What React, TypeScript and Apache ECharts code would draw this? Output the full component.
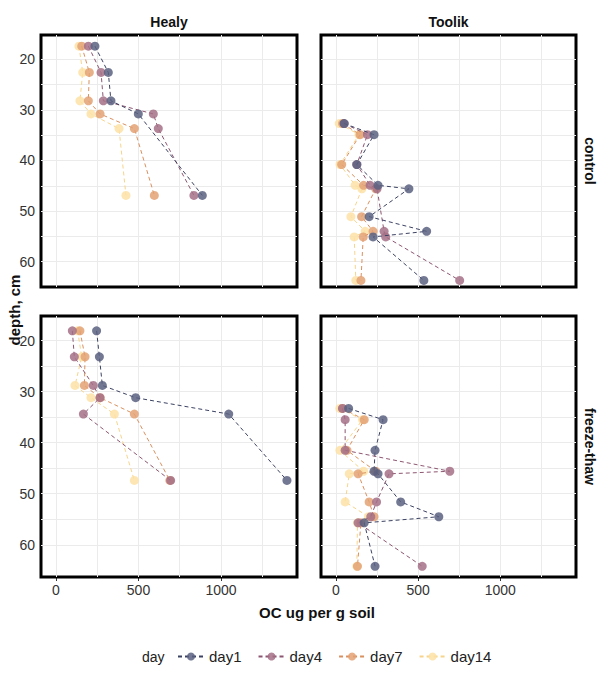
import { useEffect, useRef } from 'react';
import * as echarts from 'echarts';

const days = ['day1', 'day4', 'day7', 'day14'];
const dotColors = ['#5a6080', '#a47086', '#e3a274', '#fde2a6'];
const lineColors = ['#3c4262', '#8c5670', '#d99060', '#f7d48c'];
const sites = ['Healy', 'Toolik'];
const treatments = ['control', 'freeze-thaw'];
const xTicks = [0, 500, 1000];
const yTicks = [20, 30, 40, 50, 60];

// [OC ug per g soil, depth cm], per panel and day
const healyControl = [
  [[236, 17.4], [317, 22.6], [333, 28.2], [499, 30.8], [887, 46.9]],
  [[196, 17.4], [273, 22.6], [287, 28.2], [590, 30.8], [620, 33.7], [836, 46.9]],
  [[156, 17.4], [202, 22.6], [196, 28.2], [267, 30.8], [475, 33.7], [596, 46.9]],
  [[139, 17.4], [162, 22.6], [145, 28.2], [212, 30.8], [382, 33.7], [424, 46.9]]
];
const toolikControl = [
  [[50, 32.7], [232, 34.9], [127, 40.8], [256, 44.9], [444, 45.6], [202, 51.1], [552, 54], [226, 55.1], [535, 63.7]],
  [[50, 32.7], [192, 34.9], [127, 40.8], [208, 44.9], [250, 45.6], [293, 54], [303, 55.1], [753, 63.7]],
  [[40, 32.7], [147, 34.9], [35, 40.8], [168, 44.9], [242, 45.6], [156, 51.1], [226, 54], [166, 55.1], [152, 63.7]],
  [[20, 32.7], [140, 34.9], [25, 40.8], [117, 44.9], [158, 45.6], [91, 51.1], [178, 54], [111, 55.1], [121, 63.7]]
];
const healyFreeze = [
  [[246, 18.1], [263, 23.2], [281, 28.8], [483, 31.2], [1047, 34.4], [1400, 47.4]],
  [[99, 18.1], [111, 23.2], [226, 28.8], [267, 31.2], [166, 34.4], [695, 47.4]],
  [[145, 18.1], [176, 23.2], [172, 28.8], [267, 31.2], [475, 34.4], [690, 47.4]],
  [[131, 18.1], [156, 23.2], [115, 28.8], [212, 31.2], [354, 34.4], [475, 47.4]]
];
const toolikFreeze = [
  [[77, 33.3], [287, 35.5], [238, 41.5], [232, 45.6], [256, 46.1], [394, 51.6], [626, 54.5], [172, 55.7], [238, 64.2]],
  [[40, 33.3], [56, 35.5], [56, 41.5], [693, 45.6], [323, 46.1], [247, 51.6], [212, 54.5], [135, 55.7], [525, 64.2]],
  [[40, 33.3], [172, 35.5], [67, 41.5], [242, 45.6], [135, 46.1], [202, 51.6], [232, 54.5], [152, 55.7], [131, 64.2]],
  [[24, 33.3], [162, 35.5], [24, 41.5], [168, 45.6], [81, 46.1], [56, 51.6], [198, 54.5], [131, 55.7], [127, 64.2]]
];
const panels = [healyControl, toolikControl, healyFreeze, toolikFreeze];

const xGrid = [0, 250, 500, 750, 1000, 1250];
const yGrid = [20, 25, 30, 35, 40, 45, 50, 55, 60];

export default function App() {
  const ref = useRef<HTMLDivElement>(null);

  useEffect(() => {
    if (!ref.current) return;
    const chart = echarts.init(ref.current, null, { renderer: 'svg' });
    const boxes = [
      { left: 41, top: 35, width: 256, height: 252 },
      { left: 321, top: 35, width: 255, height: 252 },
      { left: 41, top: 316, width: 256, height: 261 },
      { left: 321, top: 316, width: 255, height: 261 }
    ];
    const labelStyle = { color: '#333', fontSize: 14, fontFamily: 'Liberation Sans' };
    const grid = boxes.map(b => ({ ...b, show: true, borderColor: '#000', borderWidth: 3, backgroundColor: 'transparent', z: 5 }));
    const xAxis = boxes.map((_, i) => ({
      type: 'value', gridIndex: i, min: -91, max: 1461,
      splitLine: { show: false }, axisLine: { show: false }, minorTick: { show: false },
      axisTick: { show: i >= 2, customValues: xTicks, length: 4, lineStyle: { color: '#333' } },
      axisLabel: { show: i >= 2, customValues: xTicks, formatter: (v: number) => String(v), ...labelStyle, margin: 6 }
    }));
    const yAxis = boxes.map((_, i) => ({
      type: 'value', gridIndex: i, inverse: true, min: 15.2, max: i < 2 ? 65 : 66.3,
      splitLine: { show: false }, axisLine: { show: false },
      axisTick: { show: i % 2 === 0, customValues: yTicks, length: 4, lineStyle: { color: '#333' } },
      axisLabel: { show: i % 2 === 0, customValues: yTicks, ...labelStyle, margin: 6 }
    }));
    const series: any[] = [];
    panels.forEach((panel, p) => {
      series.push({
        type: 'line', xAxisIndex: p, yAxisIndex: p, data: [], silent: true,
        markLine: {
          silent: true, symbol: 'none', label: { show: false },
          lineStyle: { color: '#ebebeb', type: 'solid', width: 1 },
          data: [...xGrid.map(v => ({ xAxis: v })), ...yGrid.map(v => ({ yAxis: v }))]
        }
      });
      panel.forEach((pts, d) => {
        series.push({
          type: 'line', name: days[d], xAxisIndex: p, yAxisIndex: p, data: pts,
          symbol: 'circle', symbolSize: 9,
          itemStyle: { color: dotColors[d], opacity: 0.85, borderWidth: 0 },
          lineStyle: { color: lineColors[d], type: [4, 3], width: 1 },
          z: 10 - d
        });
      });
    });
    chart.setOption({
      animation: false,
      grid, xAxis, yAxis, series,
      legend: {
        data: days, bottom: 17, left: 172, itemGap: 16, itemWidth: 26, itemHeight: 10,
        textStyle: { fontSize: 15, color: '#222', fontFamily: 'Liberation Sans' }
      },
      graphic: [
        { type: 'text', left: 142, top: 650, style: { text: 'day', fontSize: 14, fill: '#222', fontFamily: 'Liberation Sans' } },
        ...sites.map((s, i) => ({
          type: 'text', x: boxes[i].left + boxes[i].width / 2, y: 22,
          style: { text: s, fontSize: 14, fontWeight: 'bold', fill: '#111', align: 'center', verticalAlign: 'middle', fontFamily: 'Liberation Sans' }
        })),
        ...treatments.map((t, i) => ({
          type: 'text', x: 590, y: boxes[i * 2].top + boxes[i * 2].height / 2, rotation: -Math.PI / 2,
          style: { text: t, fontSize: 14, fontWeight: 'bold', fill: '#111', align: 'center', verticalAlign: 'middle', fontFamily: 'Liberation Sans' }
        })),
        { type: 'text', x: 14, y: 310, rotation: Math.PI / 2,
          style: { text: 'depth, cm', fontSize: 15, fontWeight: 'bold', fill: '#111', align: 'center', verticalAlign: 'middle', fontFamily: 'Liberation Sans' } },
        { type: 'text', x: 317, y: 612,
          style: { text: 'OC ug per g soil', fontSize: 15, fontWeight: 'bold', fill: '#111', align: 'center', verticalAlign: 'middle', fontFamily: 'Liberation Sans' } }
      ]
    });
    return () => chart.dispose();
  }, []);

  return <div ref={ref} style={{ position: 'fixed', left: 0, top: 0, width: 609, height: 686, background: '#fff' }} />;
}
